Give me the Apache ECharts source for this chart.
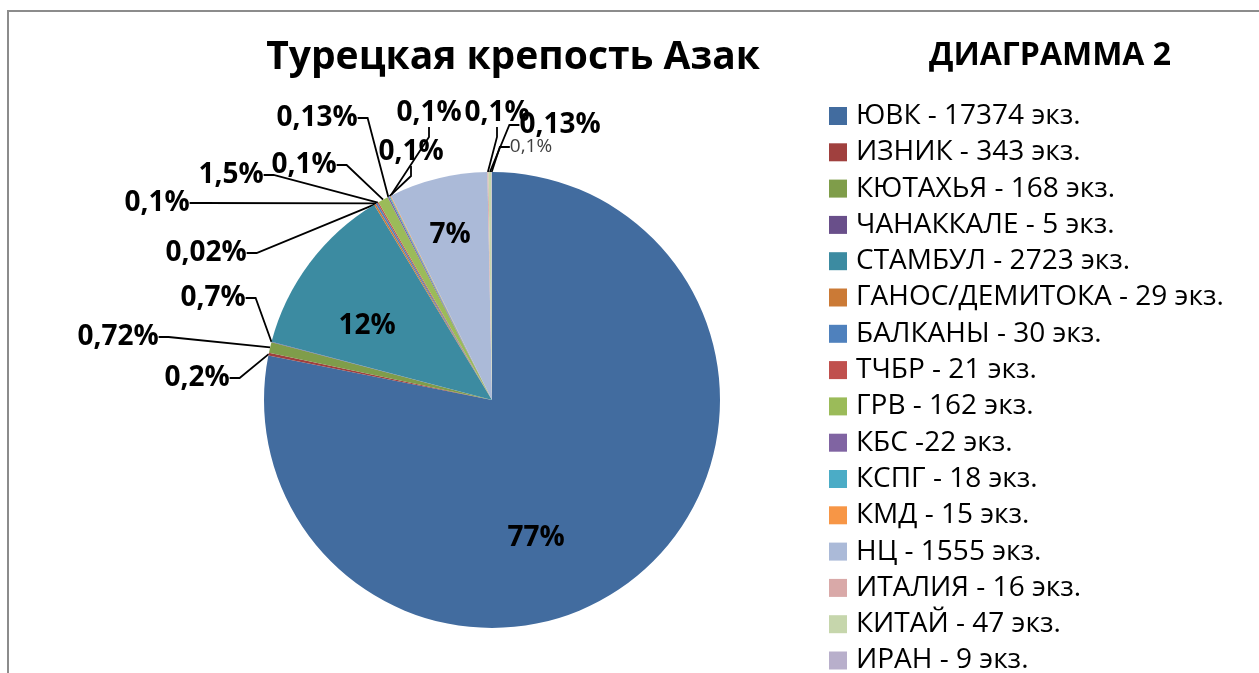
<!DOCTYPE html>
<html>
<head>
<meta charset="utf-8">
<script src="https://cdn.jsdelivr.net/npm/echarts@6/dist/echarts.min.js"></script>
<style>
  html, body { margin: 0; padding: 0; background: #fff; }
  #main { width: 1259px; height: 673px; }
</style>
</head>
<body>
<div id="main"></div>
<script>
  // категории (текст легенды)
  var categories = [
    'ЮВК - 17374 экз.', 'ИЗНИК - 343 экз.', 'КЮТАХЬЯ - 168 экз.', 'ЧАНАККАЛЕ - 5 экз.',
    'СТАМБУЛ - 2723 экз.', 'ГАНОС/ДЕМИТОКА - 29 экз.', 'БАЛКАНЫ - 30 экз.', 'ТЧБР - 21 экз.',
    'ГРВ - 162 экз.', 'КБС -22 экз.', 'КСПГ - 18 экз.', 'КМД - 15 экз.',
    'НЦ - 1555 экз.', 'ИТАЛИЯ - 16 экз.', 'КИТАЙ - 47 экз.', 'ИРАН - 9 экз.'
  ];
  // величины секторов, как они нарисованы на диаграмме
  var values = [17374, 45, 168, 5, 2723, 29, 30, 21, 162, 22, 18, 15, 1555, 16, 47, 9];
  // подписи секторов (заданы вручную в оригинале)
  var labels = ['77%', '0,2%', '0,72%', '0,7%', '12%', '0,02%', '0,1%', '1,5%',
                '0,1%', '0,13%', '0,1%', '0,1%', '7%', '0,1%', '0,13%', '0,1%'];

  var colors = ['#426c9f', '#a0403e', '#7f9d4a', '#694f8a', '#3c8ba1', '#cb7a36', '#4f81bd', '#c0504d',
                '#9bbb59', '#8064a2', '#4bacc6', '#f79646', '#abbad8', '#d9a9a8', '#c6d6ac', '#b8afcb'];

  // положение подписей (центр текста)
  var labelPos = [
    [536, 538], [197, 378], [118, 337], [213, 298], [367, 326], [206, 253], [157, 203], [231, 175],
    [304, 165], [317, 118], [411, 152], [429, 113], [450, 235], [497, 113], [560, 125], [531, 147]
  ];
  var insideIdx = [0, 4, 12];

  var FONT = '"Open Sans", sans-serif';

  var myChart = echarts.init(document.getElementById('main'));

  var pieData = values.map(function (v, i) {
    var item = { name: categories[i], value: v };
    if (insideIdx.indexOf(i) >= 0) {
      item.labelLine = { show: false };
    }
    if (i === 15) {
      item.label = { fontWeight: 'normal', fontSize: 19, color: '#404040' };
    }
    return item;
  });

  var option = {
    animation: false,
    color: colors,
    graphic: [
      { type: 'line', shape: { x1: 7, y1: 11, x2: 1259, y2: 11 }, style: { stroke: '#8c8c8c', lineWidth: 2 } },
      { type: 'line', shape: { x1: 8, y1: 10, x2: 8, y2: 673 }, style: { stroke: '#8c8c8c', lineWidth: 2 } },
      {
        type: 'text', x: 513, y: 58,
        style: { text: 'Турецкая крепость Азак', font: 'bold 39px ' + FONT, fill: '#000', textAlign: 'center', textVerticalAlign: 'middle' }
      },
      {
        type: 'text', x: 1050, y: 56,
        style: { text: 'ДИАГРАММА 2', font: 'bold 32px ' + FONT, fill: '#000', textAlign: 'center', textVerticalAlign: 'middle' }
      }
    ],
    legend: {
      orient: 'vertical',
      left: 829,
      top: 101,
      height: 600,
      padding: 0,
      icon: 'rect',
      itemWidth: 18,
      itemHeight: 18,
      itemGap: 6.3,
      selectedMode: false,
      textStyle: {
        fontFamily: FONT,
        fontSize: 28,
        lineHeight: 30,
        color: '#000',
        padding: [0, 0, 0, 4]
      },
      data: categories
    },
    series: [
      {
        type: 'pie',
        center: [492, 400],
        radius: 228,
        startAngle: 90,
        clockwise: true,
        avoidLabelOverlap: false,
        label: {
          show: true,
          formatter: function (p) { return labels[p.dataIndex]; },
          fontFamily: FONT,
          fontWeight: 'bold',
          fontSize: 28,
          color: '#000'
        },
        labelLine: {
          show: true,
          length: 10,
          length2: 10,
          lineStyle: { color: '#000', width: 1.8 }
        },
        labelLayout: function (params) {
          var p = labelPos[params.dataIndex];
          return { x: p[0], y: p[1], align: 'center', verticalAlign: 'middle' };
        },
        emphasis: { disabled: true },
        data: pieData
      }
    ]
  };
  myChart.setOption(option);
</script>
</body>
</html>
